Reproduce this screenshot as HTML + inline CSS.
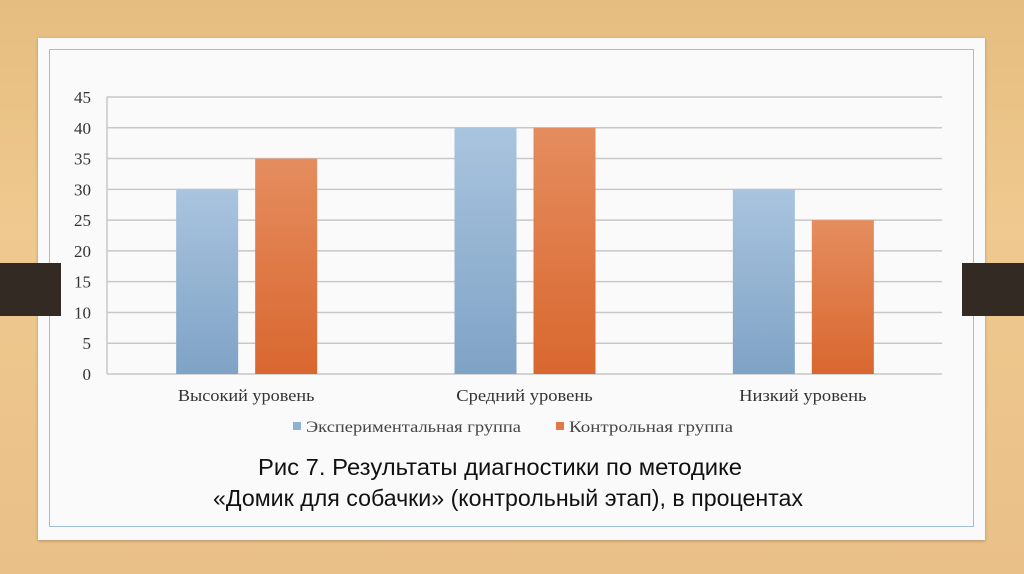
<!DOCTYPE html>
<html><head><meta charset="utf-8"><style>
body{margin:0;width:1024px;height:574px;overflow:hidden;background:linear-gradient(180deg,#e6bd80 0%,#efc98f 40%,#e9c088 100%);font-family:"Liberation Serif",serif;position:relative}
.card{position:absolute;left:38px;top:38px;width:947px;height:502px;background:#fafafa;box-shadow:0 1px 3px rgba(0,0,0,.25)}
.inner{position:absolute;left:11px;top:11px;width:925px;height:478px;border:1.5px solid #9dc0d8;box-sizing:border-box}
.strip{position:absolute;top:263px;height:53px;background:#332a24}
</style></head><body>
<div class="card"><div class="inner"></div></div>
<div class="strip" style="left:0;width:61px"></div>
<div class="strip" style="left:962px;width:62px"></div>
<svg width="1024" height="574" style="position:absolute;left:0;top:0">
<defs>
<linearGradient id="gb" x1="0" y1="0" x2="0" y2="1"><stop offset="0" stop-color="#a9c4de"/><stop offset="1" stop-color="#7fa3c6"/></linearGradient>
<linearGradient id="go" x1="0" y1="0" x2="0" y2="1"><stop offset="0" stop-color="#e58d5f"/><stop offset="1" stop-color="#d9672f"/></linearGradient>
</defs>
<g id="grid"></g><g id="bars"></g><g id="labels"></g>
<g>
<rect x="293" y="422" width="8" height="8" fill="#8fb1d3"/>
<text x="306" y="432" font-size="16" fill="#444" textLength="215" lengthAdjust="spacingAndGlyphs">Экспериментальная группа</text>
<rect x="556" y="422" width="8" height="8" fill="#e07a45"/>
<text x="569" y="432" font-size="16" fill="#444" textLength="164" lengthAdjust="spacingAndGlyphs">Контрольная группа</text>
</g>
<text x="500" y="475" text-anchor="middle" font-family="Liberation Sans, sans-serif" font-size="23" fill="#111" textLength="484" lengthAdjust="spacingAndGlyphs">Рис 7. Результаты диагностики по методике</text>
<text x="508" y="506" text-anchor="middle" font-family="Liberation Sans, sans-serif" font-size="23" fill="#111" textLength="590" lengthAdjust="spacingAndGlyphs">«Домик для собачки» (контрольный этап), в процентах</text>
</svg>
<script>
const categories=["Высокий уровень","Средний уровень","Низкий уровень"];
const expValues=[30,40,30];
const ctrlValues=[35,40,25];
const yTicks=[0,5,10,15,20,25,30,35,40,45];
const NS="http://www.w3.org/2000/svg";
const x0=107,x1=942,y0=374,y1=97,yMax=45;
const y=v=>y0-(y0-y1)*v/yMax;
const gw=(x1-x0)/categories.length;
function mk(tag,attrs,parent){const e=document.createElementNS(NS,tag);for(const k in attrs)e.setAttribute(k,attrs[k]);parent.appendChild(e);return e;}
const grid=document.getElementById('grid'),bars=document.getElementById('bars'),labels=document.getElementById('labels');
yTicks.forEach(t=>{
 const l=mk('line',{x1:x0,x2:x1,y1:y(t),y2:y(t),stroke:'#c8c8c8','stroke-width':1.5},grid);
 
 
 const tx=mk('text',{x:91,y:y(t)+6,'text-anchor':'end','font-size':17,fill:'#333'},labels);
 tx.textContent=t;
 
 
});
const ax=mk('line',{x1:x0,x2:x0,y1:y1,y2:y0,stroke:'#c8c8c8','stroke-width':1.5},grid);


categories.forEach((c,i)=>{
 const cx=x0+gw*(i+0.5);
 const b1=mk('rect',{x:cx-70,y:y(expValues[i]),width:62,height:y0-y(expValues[i]),fill:'url(#gb)'},bars);
 
 
 const b2=mk('rect',{x:cx+9,y:y(ctrlValues[i]),width:62,height:y0-y(ctrlValues[i]),fill:'url(#go)'},bars);
 
 
 const t=mk('text',{x:cx,y:401,'text-anchor':'middle','font-size':17,fill:'#333',textLength:c.length*9.1,lengthAdjust:'spacingAndGlyphs'},labels);
 t.textContent=c;
 
 
});
</script>
</body></html>
